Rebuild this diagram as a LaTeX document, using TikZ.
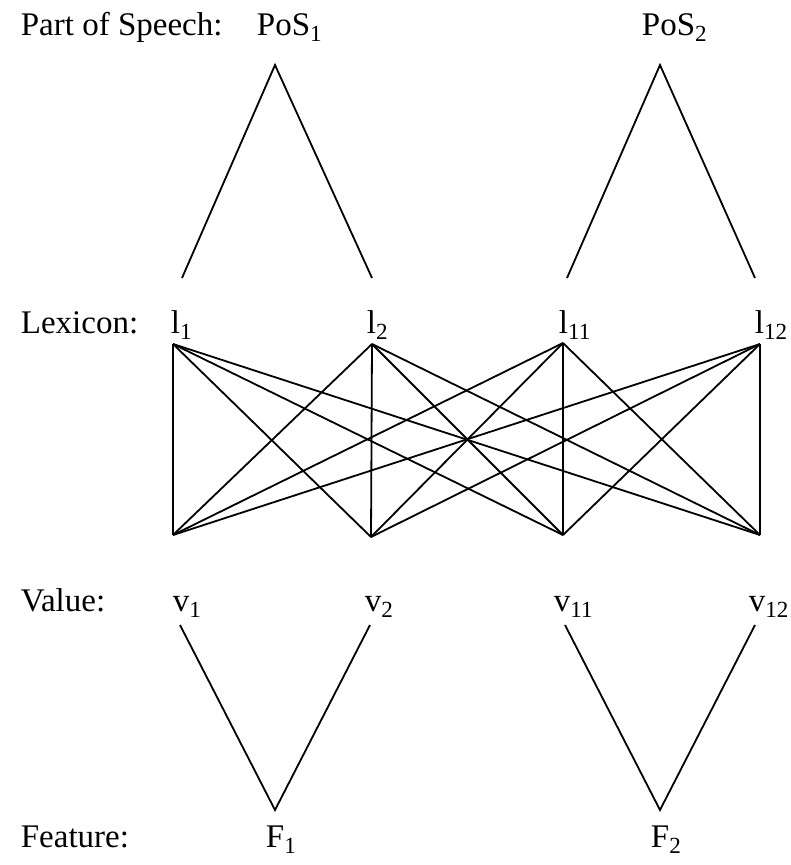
\documentclass[tikz,border=0pt]{standalone}
\usepackage{fontspec}
\setmainfont{Liberation Serif}

\begin{document}
\begin{tikzpicture}[x=1pt,y=-1pt,line width=1.8pt,
    lbl/.style={anchor=base west,inner sep=0pt,font=\fontsize{33}{39}\selectfont},
    sym/.style={anchor=base west,inner sep=0pt,font=\fontsize{33}{39}\selectfont}]
    \useasboundingbox (0,0) rectangle (791,865);
    % row labels
    \node[lbl] (rpos) at (20,35) {Part of Speech:};
    \node[lbl] (rlex) at (20,333) {Lexicon:};
    \node[lbl] (rval) at (20,611) {Value:};
    \node[lbl] (rfeat) at (20,847) {Feature:};
    % symbols
    \node[sym] (tpos1) at (256,35) {PoS\textsubscript{1}};
    \node[sym] (tpos2) at (641,35) {PoS\textsubscript{2}};
    \node[sym] (tl1) at (170,333) {l\textsubscript{1}};
    \node[sym] (tl2) at (366,333) {l\textsubscript{2}};
    \node[sym] (tl11) at (558,333) {l\textsubscript{11}};
    \node[sym] (tl12) at (754,333) {l\textsubscript{12}};
    \node[sym] (tv1) at (172,611) {v\textsubscript{1}};
    \node[sym] (tv2) at (364,611) {v\textsubscript{2}};
    \node[sym] (tv11) at (553,611) {v\textsubscript{11}};
    \node[sym] (tv12) at (748,611) {v\textsubscript{12}};
    \node[sym] (tf1) at (265,847) {F\textsubscript{1}};
    \node[sym] (tf2) at (650,847) {F\textsubscript{2}};
    % end points
    \coordinate (p1) at (275,65);
    \coordinate (p1a) at (182,278);
    \coordinate (p1b) at (372,278);
    \coordinate (p2) at (660,65);
    \coordinate (p2a) at (567,278);
    \coordinate (p2b) at (755,278);
    \coordinate (l1) at (173,344);
    \coordinate (l2) at (372,344);
    \coordinate (l11) at (563,343);
    \coordinate (l12) at (760,344);
    \coordinate (v1) at (173,535);
    \coordinate (v2) at (371,537);
    \coordinate (v11) at (563,535);
    \coordinate (v12) at (760,535);
    \coordinate (f1) at (275,810);
    \coordinate (f1a) at (180,625);
    \coordinate (f1b) at (370,625);
    \coordinate (f2) at (660,810);
    \coordinate (f2a) at (565,625);
    \coordinate (f2b) at (755,625);
    % trees
    \draw (p1a) -- (p1) -- (p1b);
    \draw (p2a) -- (p2) -- (p2b);
    \draw (f1a) -- (f1) -- (f1b);
    \draw (f2a) -- (f2) -- (f2b);
    \foreach \a in {1,2,11,12}
        \foreach \b in {1,2,11,12}
            \draw (l\a) -- (v\b);
\end{tikzpicture}
\end{document}
